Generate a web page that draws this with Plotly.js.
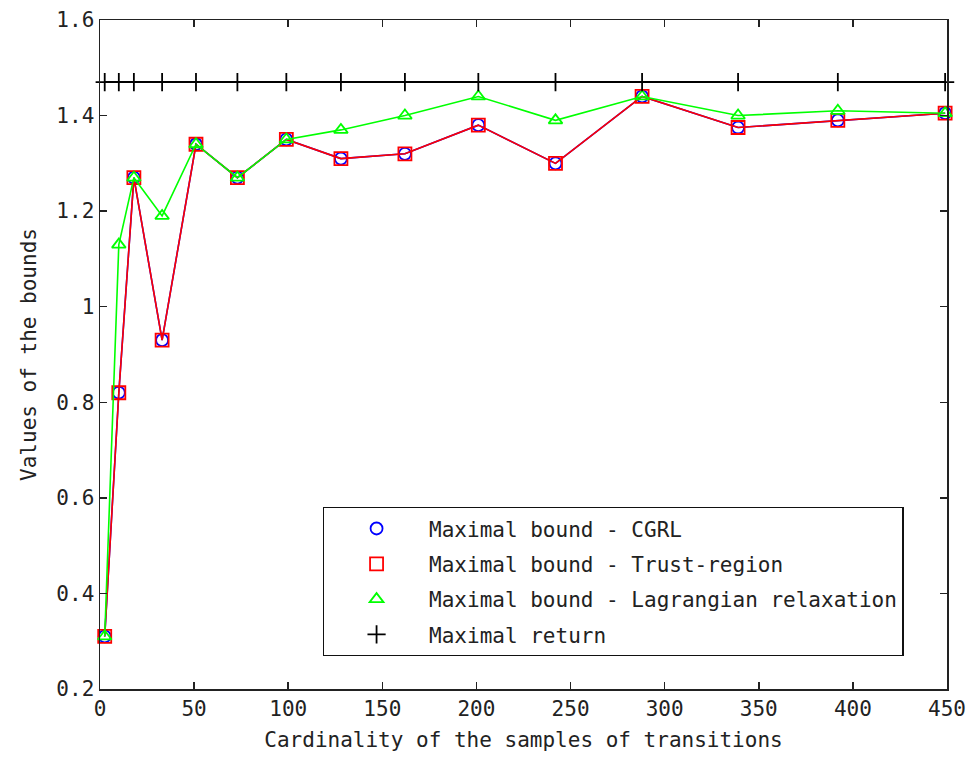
<!DOCTYPE html>
<html>
<head>
<meta charset="utf-8">
<script src="https://cdn.plot.ly/plotly-3.0.1.min.js"></script>
<style>html,body{margin:0;padding:0;background:#fff;}#chart{width:966px;height:761px;}</style>
</head>
<body>
<div id="chart"></div>
<script>
// Sample sizes (x)
const samples = [2.5, 10, 18, 33, 51, 73, 99, 128, 162, 201, 242, 288, 339, 392, 449];
// Maximal bound - CGRL
const cgrl = [0.31, 0.82, 1.27, 0.93, 1.34, 1.27, 1.35, 1.31, 1.32, 1.38, 1.30, 1.44, 1.375, 1.39, 1.405];
// Maximal bound - Trust-region
const trustRegion = [0.31, 0.82, 1.27, 0.93, 1.34, 1.27, 1.35, 1.31, 1.32, 1.38, 1.30, 1.44, 1.375, 1.39, 1.405];
// Maximal bound - Lagrangian relaxation
const lagrangian = [0.31, 1.13, 1.27, 1.19, 1.34, 1.27, 1.35, 1.37, 1.40, 1.44, 1.39, 1.44, 1.40, 1.41, 1.405];
// Maximal return
const maxReturn = [1.47, 1.47, 1.47, 1.47, 1.47, 1.47, 1.47, 1.47, 1.47, 1.47, 1.47, 1.47, 1.47, 1.47, 1.47];

const names = ['Maximal bound - CGRL', 'Maximal bound - Trust-region', 'Maximal bound - Lagrangian relaxation', 'Maximal return'];
const xTicks = [0, 50, 100, 150, 200, 250, 300, 350, 400, 450];
const yTicks = [0.2, 0.4, 0.6, 0.8, 1, 1.2, 1.4, 1.6];

const FONT = 'DejaVu Sans Mono, monospace';
const series = [
  {y: cgrl, color: '#0000ff', symbol: 'circle-open', size: 12, name: names[0]},
  {y: trustRegion, color: '#ff0000', symbol: 'square-open', size: 13, name: names[1]},
  {y: lagrangian, color: '#00ff00', symbol: 'triangle-up-open', size: 12, name: names[2]},
  {y: maxReturn, color: '#000000', symbol: 'cross-thin-open', size: 13, name: names[3]}
];

const traces = [];
series.forEach((s, i) => {
  traces.push({
    x: samples, y: s.y, mode: 'lines', type: 'scatter',
    line: {color: s.color, width: i === 3 ? 2 : 1.6},
    showlegend: false, hoverinfo: 'skip', cliponaxis: false
  });
  traces.push({
    x: samples, y: s.y, mode: 'markers', type: 'scatter', name: s.name,
    legendgroup: 'g' + i,
    marker: {symbol: s.symbol, size: s.size, color: s.color, line: {color: s.color, width: 1.8}},
    cliponaxis: false
  });
});

const axisCommon = {
  showline: true, linecolor: '#222', linewidth: 1.5, mirror: 'ticks',
  ticks: 'inside', ticklen: 7, tickwidth: 1.5, tickcolor: '#222',
  showgrid: false, zeroline: false,
  tickfont: {family: FONT, size: 21, color: '#222'}
};

const layout = {
  width: 966, height: 761,
  paper_bgcolor: '#fff', plot_bgcolor: '#fff',
  margin: {l: 100, r: 19, t: 20, b: 72},
  font: {family: FONT, size: 21, color: '#222'},
  xaxis: Object.assign({}, axisCommon, {
    range: [0, 450], tickvals: xTicks, ticktext: xTicks.map(String),
    title: {text: 'Cardinality of the samples of transitions', font: {family: FONT, size: 21, color: '#222'}, standoff: 12}
  }),
  yaxis: Object.assign({}, axisCommon, {
    range: [0.2, 1.6], tickvals: yTicks, ticktext: yTicks.map(String),
    title: {text: 'Values of the bounds', font: {family: FONT, size: 21, color: '#222'}, standoff: 14}
  }),
  legend: {
    x: 0.263, y: 0.272, xanchor: 'left', yanchor: 'top',
    bordercolor: '#111', borderwidth: 1.3, bgcolor: '#fff',
    font: {family: FONT, size: 21, color: '#222'},
    itemwidth: 95, traceorder: 'grouped', tracegroupgap: 5
  },
  showlegend: true
};

Plotly.newPlot('chart', traces, layout, {staticPlot: true, displayModeBar: false});
</script>
</body>
</html>
